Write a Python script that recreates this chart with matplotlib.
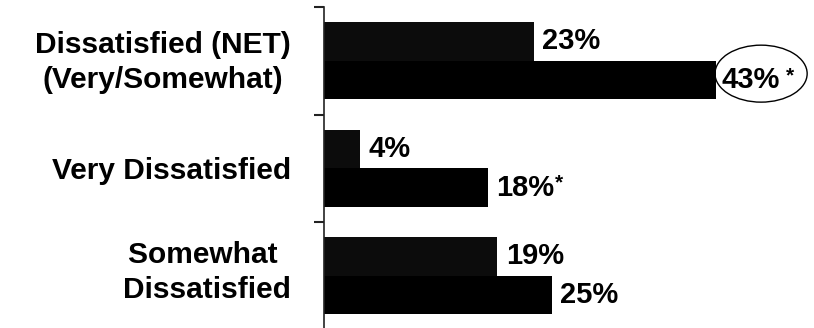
import matplotlib
matplotlib.use('Agg')
import matplotlib.pyplot as plt
from matplotlib.patches import Ellipse
import numpy as np

plt.rcParams['font.family'] = ['Liberation Sans', 'DejaVu Sans']
plt.rcParams['font.weight'] = 'bold'

categories = ['Dissatisfied (NET)\n(Very/Somewhat)', 'Very Dissatisfied', 'Somewhat \nDissatisfied']
series_a = [23, 4, 19]
series_b = [43, 18, 25]
significant_b = [True, True, False]

fig = plt.figure(figsize=(8.14, 3.28), dpi=100)
ax = fig.add_axes([324 / 814, -1.5 / 328, 1 - 324 / 814, 1 - 5.5 / 328])

y = np.arange(len(categories))
h = 0.36
ax.barh(y - h / 2, series_a, height=h, color='#0c0c0c')
ax.barh(y + h / 2, series_b, height=h, color='black')

ax.set_xlim(0, 53.7)
ax.set_ylim(2.5, -0.5)

for s in ['top', 'right', 'bottom']:
    ax.spines[s].set_visible(False)
ax.spines['left'].set_color('#222222')
ax.spines['left'].set_linewidth(1.2)
ax.set_xticks([])

ax.set_yticks([-0.5, 0.5, 1.5])
ax.set_yticklabels([])
ax.tick_params(axis='y', which='major', length=7.5, width=1.5, color='#222222')
# labels sit a little off the group centres in the original
label_shift = np.array([-0.04, 0.0, -0.09])
ax.set_yticks(y + label_shift, minor=True)
ax.set_yticklabels(categories, minor=True, fontsize=21.5, fontweight='bold',
                   multialignment='center', linespacing=1.3)
ax.tick_params(axis='y', which='minor', length=0, pad=24)

for i, v in enumerate(series_a):
    ax.annotate(f'{v}%', xy=(v, i - h / 2), xytext=(6, 0), textcoords='offset points',
                ha='left', va='center', fontsize=21, fontweight='bold')

for i, v in enumerate(series_b):
    gap = 4 if i == 0 else 6
    t = ax.annotate(f'{v}%', xy=(v, i + h / 2), xytext=(gap, 0), textcoords='offset points',
                    ha='left', va='center', fontsize=21, fontweight='bold')
    if significant_b[i]:
        sp = 4 if i == 0 else 0.5
        ax.annotate('*', xy=(1, 1.0), xycoords=t, xytext=(sp, 0), textcoords='offset points',
                    ha='left', va='top', fontsize=15, fontweight='bold')

# circle around the NET value
ax.add_patch(Ellipse((series_b[0] + 4.9, 0.12), width=10.1, height=0.53,
                     fill=False, edgecolor='black', linewidth=1.0, clip_on=False))

fig.savefig('out.png', dpi=100)
